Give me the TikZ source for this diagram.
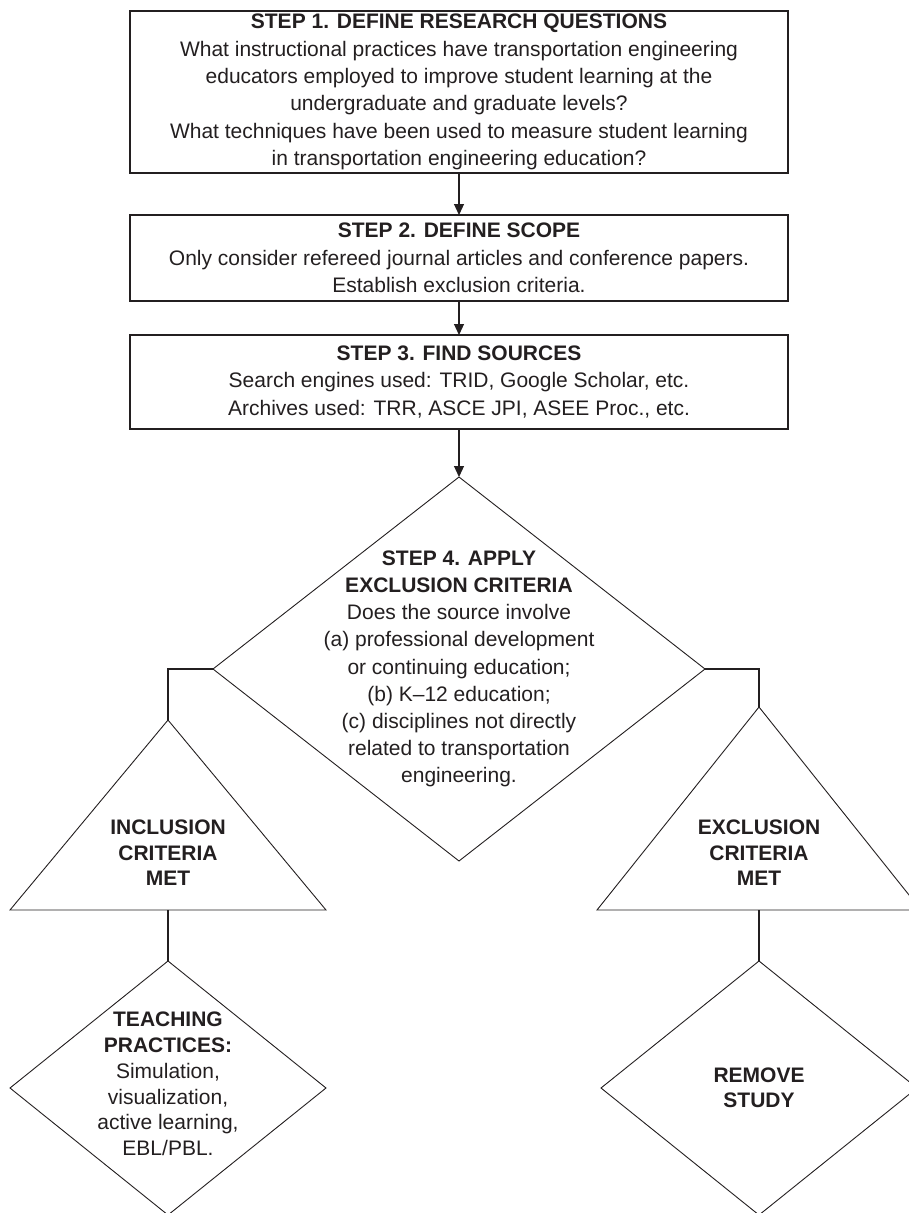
\documentclass[tikz,border=0pt]{standalone}
\usepackage{fontspec}
\setmainfont{Liberation Sans}
\usetikzlibrary{arrows.meta,shapes.geometric}
\definecolor{ink}{HTML}{231F20}
\begin{document}
\begin{tikzpicture}[x=1pt,y=-1pt,
  stepbox/.style={draw=ink, line width=1.4pt, minimum width=658pt, inner sep=0pt, outer sep=0pt,
    align=center, text=ink, font=\fontsize{21}{27.4}\selectfont},
  shapeline/.style={draw=ink, line width=0.9pt},
  dshape/.style={diamond, shapeline, inner sep=0pt, outer sep=0pt},
  lbl/.style={align=center, text=ink, inner sep=0pt},
  conn/.style={draw=ink, line width=1.2pt},
  arr/.style={conn, -{Triangle[length=11pt,width=10pt]}}]
\useasboundingbox (0,0) rectangle (909,1213);
\clip (0,0) rectangle (909,1213);

% step boxes
\node[stepbox, minimum height=162pt] (s1) at (459,92)
  {\textbf{STEP 1. DEFINE RESEARCH QUESTIONS}\\
   What instructional practices have transportation engineering\\
   educators employed to improve student learning at the\\
   undergraduate and graduate levels?\\
   What techniques have been used to measure student learning\\
   in transportation engineering education?};
\node[stepbox, minimum height=86pt] (s2) at (459,258)
  {\textbf{STEP 2. DEFINE SCOPE}\\
   Only consider refereed journal articles and conference papers.\\
   Establish exclusion criteria.};
\node[stepbox, minimum height=94pt] (s3) at (459,382)
  {\textbf{STEP 3. FIND SOURCES}\\
   Search engines used: TRID, Google Scholar, etc.\\
   Archives used: TRR, ASCE JPI, ASEE Proc., etc.};

% step 4 diamond
\node[dshape, minimum width=492pt, minimum height=384pt] (d4) at (459,669) {};
\node[lbl, font=\fontsize{21}{27.2}\selectfont] (d4t) at (d4.center)
  {\textbf{STEP 4. APPLY}\\
   \textbf{EXCLUSION CRITERIA}\\
   Does the source involve\\
   (a) professional development\\
   or continuing education;\\
   (b) K--12 education;\\
   (c) disciplines not directly\\
   related to transportation\\
   engineering.};

% triangles
\coordinate (lta) at (168,720);
\coordinate (ltl) at (10,910);
\coordinate (ltr) at (326,910);
\coordinate (ltb) at (168,910);
\draw[shapeline] (lta) -- (ltl) -- (ltr) -- cycle;
\node[lbl, font=\fontsize{21}{25.5}\selectfont\bfseries] (ltt) at (168,853)
  {INCLUSION\\ CRITERIA\\ MET};

\coordinate (rta) at (759,707);
\coordinate (rtl) at (597,910);
\coordinate (rtr) at (921,910);
\coordinate (rtb) at (759,910);
\draw[shapeline] (rta) -- (rtl) -- (rtr) -- cycle;
\node[lbl, font=\fontsize{21}{25.5}\selectfont\bfseries] (rtt) at (759,853)
  {EXCLUSION\\ CRITERIA\\ MET};

% lower diamonds
\node[dshape, minimum width=316pt, minimum height=254pt] (d5) at (168,1088) {};
\node[lbl, font=\fontsize{21}{25.8}\selectfont] (d5t) at (168,1084)
  {\textbf{TEACHING}\\
   \textbf{PRACTICES:}\\
   Simulation,\\
   visualization,\\
   active learning,\\
   EBL/PBL.};
\node[dshape, minimum width=316pt, minimum height=254pt] (d6) at (759,1088) {};
\node[lbl, font=\fontsize{21}{24.5}\selectfont\bfseries] (d6t) at (d6.center)
  {REMOVE\\ STUDY};

% connectors
\draw[arr] (s1.south) -- (s2.north);
\draw[arr] (s2.south) -- (s3.north);
\draw[arr] (s3.south) -- (d4.north);
\draw[conn] (d4.west) -| (lta);
\draw[conn] (d4.east) -| (rta);
\draw[conn] (ltb) -- (d5.north);
\draw[conn] (rtb) -- (d6.north);
\end{tikzpicture}
\end{document}
